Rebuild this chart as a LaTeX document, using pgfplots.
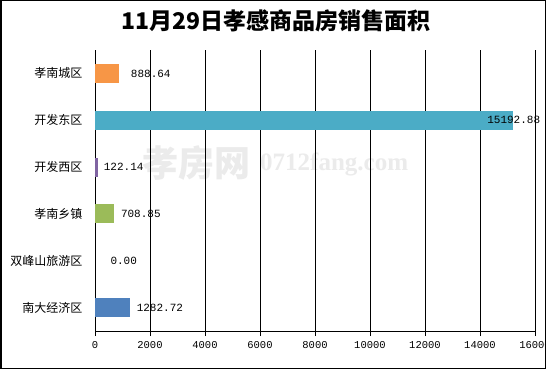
\documentclass[border=0pt]{standalone}
\usepackage{pgfplots}
\pgfplotsset{compat=1.18}
\usepackage{fontspec}
\setmainfont{Liberation Serif}
\newfontfamily\cjk{Noto Sans CJK SC}
\newfontfamily\mono{Liberation Mono}
\definecolor{c1}{HTML}{F79646}
\definecolor{c2}{HTML}{4BACC6}
\definecolor{c3}{HTML}{8064A2}
\definecolor{c4}{HTML}{9BBB59}
\definecolor{c6}{HTML}{4F81BD}
\begin{document}
\begin{tikzpicture}
\useasboundingbox (0,0) rectangle (546bp,369bp);
\fill[white] (0,0) rectangle (546bp,369bp);
\node[font=\cjk\bfseries\fontsize{23bp}{26bp}\selectfont] at (276bp,348bp) {11月29日孝感商品房销售面积};
\node[text=gray!16, font=\cjk\bfseries\fontsize{36bp}{38bp}\selectfont, anchor=west, inner sep=0pt] at (142bp,206bp) {孝房网};
\node[text=gray!16, font=\bfseries\fontsize{25bp}{28bp}\selectfont, anchor=west, inner sep=0pt] at (260bp,205bp) {0712fang.com};
\begin{axis}[
  at={(95bp,38bp)}, anchor=south west,
  scale only axis, width=440bp, height=281bp,
  xbar, bar width=19bp,
  xmin=0, xmax=16000, ymin=-0.5, ymax=5.5,
  y dir=reverse,
  axis lines=left, axis line style={-, black, line width=0.8pt},
  xtick={0,2000,...,16000},
  xmajorgrids, grid style={black, line width=0.8pt},
  tick align=outside, major tick length=5bp,
  tick style={black, line width=0.8pt},
  scaled x ticks=false,
  xticklabel style={font=\mono\fontsize{10.5bp}{12bp}\selectfont, yshift=-2bp},
  x tick label style={/pgf/number format/1000 sep={}, /pgf/number format/assume math mode=true},
  ytick={0,1,2,3,4,5},
  yticklabels={孝南城区,开发东区,开发西区,孝南乡镇,双峰山旅游区,南大经济区},
  yticklabel style={font=\cjk\fontsize{12bp}{14bp}\selectfont, xshift=-4bp},
  y tick style={draw=none},
  extra y ticks={-0.5,0.5,1.5,2.5,3.5,4.5,5.5},
  extra y tick labels={},
  extra y tick style={tick style={draw=black, line width=0.8pt}, major tick length=5bp, tick align=outside, grid=none},
  nodes near coords, point meta=explicit symbolic,
  every node near coord/.append style={font=\mono\fontsize{11bp}{12bp}\selectfont, black, anchor=west},
  clip=false,
]
\addplot[fill=c1, draw=none, bar shift=0pt, every node near coord/.append style={xshift=8bp}] coordinates {(888.64,0) [888.64]};
\addplot[fill=c2, draw=none, bar shift=0pt, every node near coord/.append style={xshift=-29bp}] coordinates {(15192.88,1) [15192.88]};
\addplot[fill=c3, draw=none, bar shift=0pt, every node near coord/.append style={xshift=2bp}] coordinates {(122.14,2) [122.14]};
\addplot[fill=c4, draw=none, bar shift=0pt, every node near coord/.append style={xshift=3bp}] coordinates {(708.85,3) [708.85]};
\addplot[fill=none, draw=none, bar shift=0pt, every node near coord/.append style={xshift=12bp}] coordinates {(0,4) [0.00]};
\addplot[fill=c6, draw=none, bar shift=0pt, every node near coord/.append style={xshift=3bp}] coordinates {(1282.72,5) [1282.72]};
\end{axis}
\draw[black, line width=1.5bp] (0.75bp,0.75bp) rectangle (545.25bp,368.25bp);
\end{tikzpicture}
\end{document}
